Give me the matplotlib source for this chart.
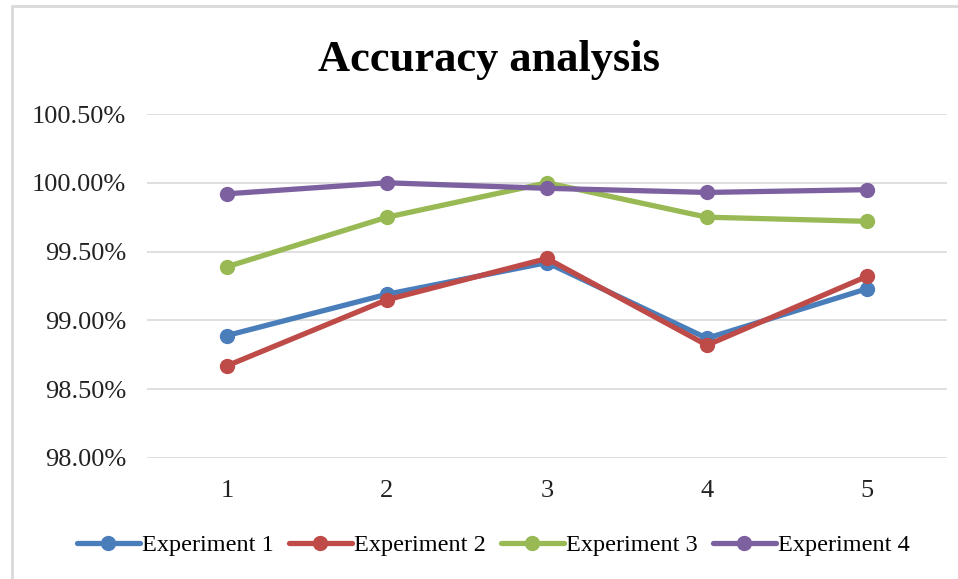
import matplotlib.pyplot as plt
from matplotlib.patches import Rectangle
from matplotlib.ticker import FuncFormatter


# ======================
# Data
# ======================

runs = [1, 2, 3, 4, 5]

exp1 = [98.89, 99.19, 99.42, 98.87, 99.23]
exp2 = [98.67, 99.15, 99.45, 98.82, 99.32]
exp3 = [99.39, 99.75, 100.00, 99.75, 99.72]
exp4 = [99.92, 100.00, 99.96, 99.93, 99.95]

series_names = ["Experiment 1", "Experiment 2", "Experiment 3", "Experiment 4"]
colors = ["#4A7EBB", "#BE4B48", "#98B954", "#7D60A0"]

y_ticks = [98.0, 98.5, 99.0, 99.5, 100.0, 100.5]


# ======================
# Figure
# ======================

plt.rcParams["font.family"] = ["Liberation Serif", "DejaVu Serif"]

fig = plt.figure(figsize=(9.58, 5.79), dpi=100)
ax = fig.add_axes([0.1534, 0.2090, 0.8351, 0.5941])

for vals, name, col in zip([exp1, exp2, exp3, exp4], series_names, colors):
    ax.plot(runs, vals, color=col, lw=3.8, marker="o", ms=10,
            label=name, solid_capstyle="round")

ax.set_xlim(0.5, 5.5)
ax.set_ylim(98.0, 100.5)
ax.set_yticks(y_ticks)
ax.yaxis.set_major_formatter(FuncFormatter(lambda v, p: f"{v:.2f}%"))
ax.set_xticks(runs)

ax.grid(axis="y", color="#D9D9D9", lw=1.2)
ax.set_axisbelow(True)
for s in ax.spines.values():
    s.set_visible(False)
ax.tick_params(length=0, labelsize=19, colors="#222222")
ax.tick_params(axis="x", pad=16)
ax.tick_params(axis="y", pad=15)

fig.text(0.51, 0.897, "Accuracy analysis", ha="center", va="center",
         fontsize=32, fontweight="bold")

fig.legend(loc="center", bbox_to_anchor=(0.515, 0.058), ncol=4,
           frameon=False, fontsize=17.5, handlelength=2.6,
           handletextpad=0.1, columnspacing=0.6)

# chart area border
fig.patches.append(Rectangle((12 / 958, -0.02), 1.0, 1 - 6 / 579 + 0.02,
                             transform=fig.transFigure, fill=False,
                             edgecolor="#D9D9D9", lw=2))

plt.savefig("out.png")
